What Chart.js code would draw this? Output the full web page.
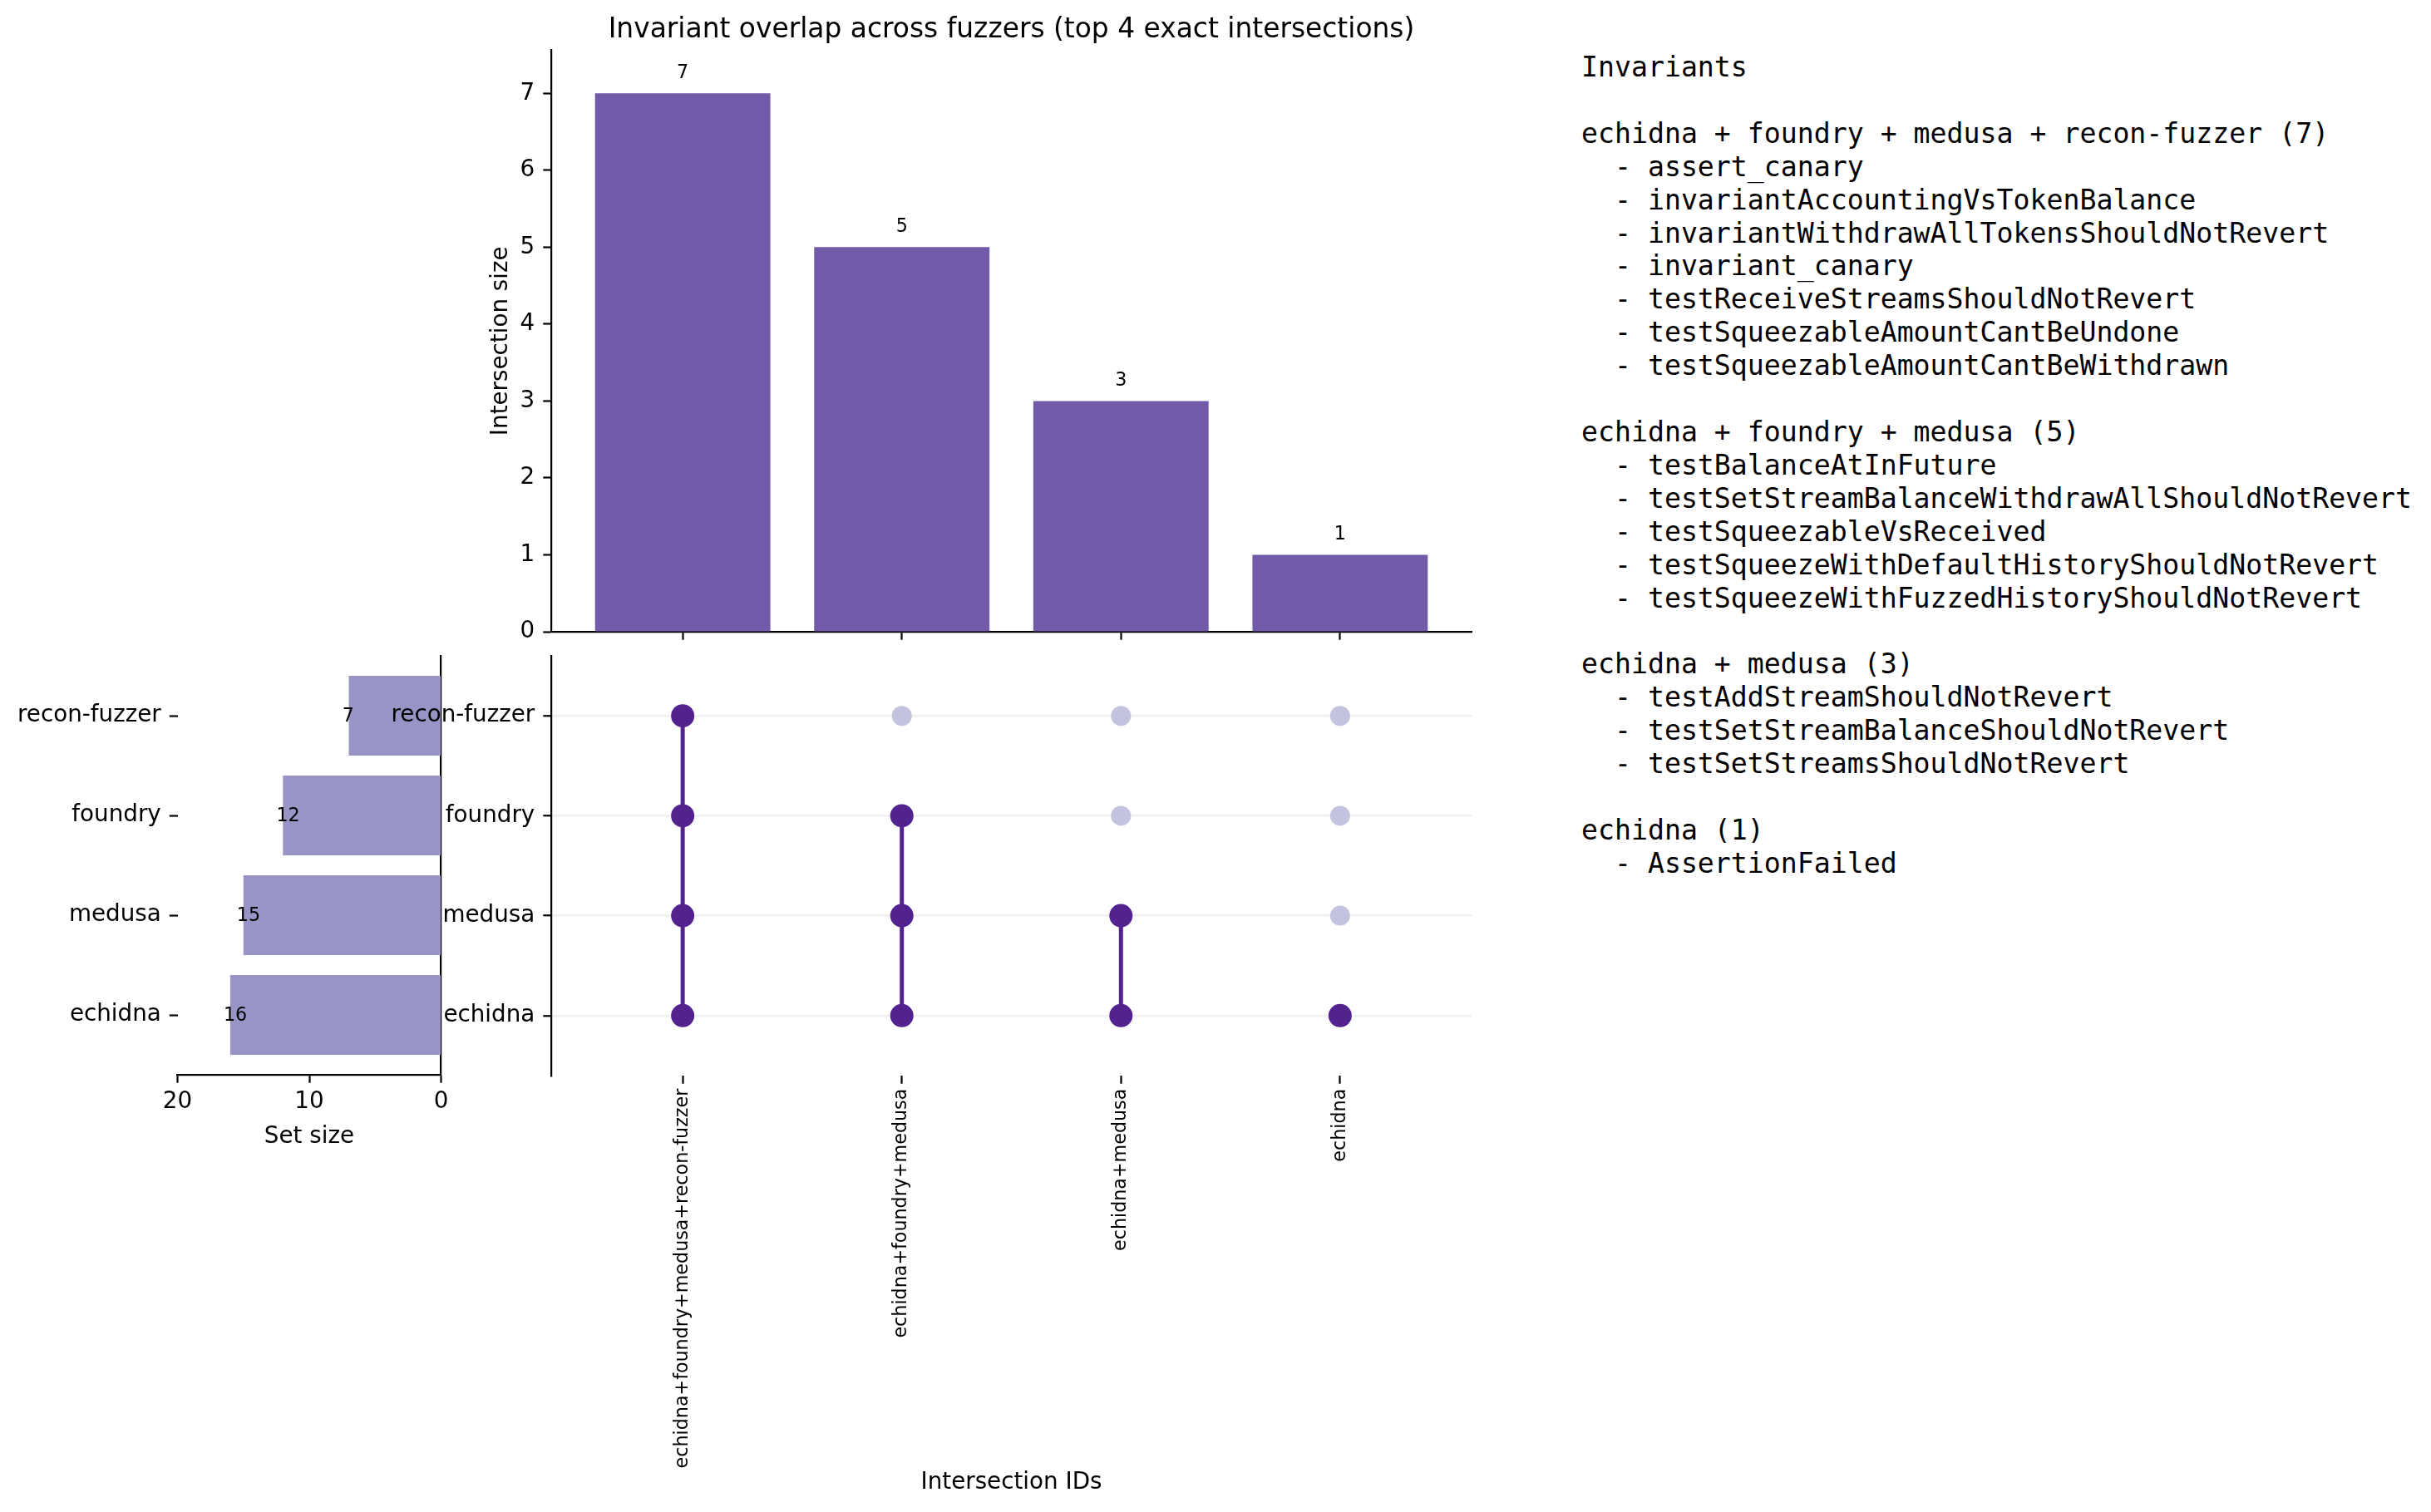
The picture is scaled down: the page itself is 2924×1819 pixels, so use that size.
<!DOCTYPE html>
<html>
<head>
<meta charset="utf-8">
<title>Invariant overlap across fuzzers</title>
<script src="https://cdn.jsdelivr.net/npm/chart.js@4.4.1/dist/chart.umd.min.js"></script>
<style>
  html, body { margin: 0; padding: 0; background: #ffffff; }
  body { width: 2924px; height: 1819px; position: relative; overflow: hidden; }
  canvas { position: absolute; }
  #intersectionChart { left: 560px; top: 0px; }
  #setSizeChart { left: 0px; top: 770px; }
  #matrixChart { left: 400px; top: 770px; }
  #invariantList {
    position: absolute; left: 1902px; top: 61px; margin: 0;
    font-family: 'DejaVu Sans Mono', monospace; font-size: 33.2px;
    line-height: 39.9px; color: #000;
  }
</style>
</head>
<body>
<canvas id="intersectionChart" width="1240" height="820"></canvas>
<canvas id="setSizeChart" width="560" height="623"></canvas>
<canvas id="matrixChart" width="1400" height="1049"></canvas>
<pre id="invariantList"></pre>
<script>
// Data block
const setNames = ['echidna', 'medusa', 'foundry', 'recon-fuzzer'];   // matrix rows, bottom to top
const setSizes = [16, 15, 12, 7];
const intersectionLabels = [
  'echidna+foundry+medusa+recon-fuzzer',
  'echidna+foundry+medusa',
  'echidna+medusa',
  'echidna'
];
const intersectionSizes = [7, 5, 3, 1];
// one row per intersection, one flag per set (echidna, medusa, foundry, recon-fuzzer)
const memberships = [
  [1, 1, 1, 1],
  [1, 1, 1, 0],
  [1, 1, 0, 0],
  [1, 0, 0, 0]
];
const sizeTicks = [0, 1, 2, 3, 4, 5, 6, 7];
const setSizeTicks = [0, 10, 20];
const positionTicks = [0, 1, 2, 3];

const invariantsAll4 = [
  'assert_canary',
  'invariantAccountingVsTokenBalance',
  'invariantWithdrawAllTokensShouldNotRevert',
  'invariant_canary',
  'testReceiveStreamsShouldNotRevert',
  'testSqueezableAmountCantBeUndone',
  'testSqueezableAmountCantBeWithdrawn'
];
const invariantsEchidnaFoundryMedusa = [
  'testBalanceAtInFuture',
  'testSetStreamBalanceWithdrawAllShouldNotRevert',
  'testSqueezableVsReceived',
  'testSqueezeWithDefaultHistoryShouldNotRevert',
  'testSqueezeWithFuzzedHistoryShouldNotRevert'
];
const invariantsEchidnaMedusa = [
  'testAddStreamShouldNotRevert',
  'testSetStreamBalanceShouldNotRevert',
  'testSetStreamsShouldNotRevert'
];
const invariantsEchidna = ['AssertionFailed'];
const invariantGroups = [invariantsAll4, invariantsEchidnaFoundryMedusa, invariantsEchidnaMedusa, invariantsEchidna];

// Style block (matplotlib points at 200 dpi)
const PT = 200 / 72;
const fs8 = 8 * PT, fs10 = 10 * PT;
const lineW = 0.8 * PT;
const tickLen = 3.5 * PT;
const topBarColor = '#715ba8';
const setBarColor = '#9894c5';
const darkDot = '#52228e';
const lightDot = '#c3c3e0';

Chart.defaults.font.family = "'DejaVu Sans', sans-serif";
Chart.defaults.color = '#000';

// helpers to pin axis sizes and tick positions
const fixWidth = w => s => { s.width = w; s.paddingTop = 0; s.paddingBottom = 0; };
const fixHeight = h => s => { s.height = h; };
const setTicks = values => s => { s.ticks = values.map(v => ({ value: v })); };
const blackTicks = { drawOnChartArea: false, tickLength: tickLen, tickWidth: lineW, tickColor: '#000', offset: false };
const blackBorder = { color: '#000', width: lineW };

// Value labels above intersection bars
const intersectionValueLabels = {
  id: 'intersectionValueLabels',
  afterDatasetsDraw(chart) {
    const ctx = chart.ctx;
    const meta = chart.getDatasetMeta(0);
    ctx.save();
    ctx.font = fs8 + "px 'DejaVu Sans'";
    ctx.fillStyle = '#000';
    ctx.textAlign = 'center';
    ctx.textBaseline = 'alphabetic';
    meta.data.forEach((bar, i) => {
      ctx.fillText(String(intersectionSizes[i]), bar.x, bar.y - 18.5);
    });
    ctx.restore();
  }
};

// Value labels inside set size bars
const setValueLabels = {
  id: 'setValueLabels',
  afterDatasetsDraw(chart) {
    const ctx = chart.ctx;
    const xs = chart.scales.x, ys = chart.scales.y;
    ctx.save();
    ctx.font = fs8 + "px 'DejaVu Sans'";
    ctx.fillStyle = '#000';
    ctx.textAlign = 'left';
    ctx.textBaseline = 'middle';
    setSizes.forEach((v, i) => {
      ctx.fillText(String(v), xs.getPixelForValue(v + 0.5), ys.getPixelForValue(i) + 1);
    });
    ctx.restore();
  }
};

// Intersection size bars
new Chart(document.getElementById('intersectionChart'), {
  type: 'bar',
  data: {
    datasets: [{
      data: intersectionSizes.map((v, i) => ({ x: i, y: v })),
      backgroundColor: topBarColor,
      barPercentage: 0.8,
      categoryPercentage: 1.0
    }]
  },
  options: {
    responsive: false,
    animation: false,
    layout: { padding: { right: 30 } },
    plugins: {
      legend: { display: false },
      tooltip: { enabled: false },
      title: {
        display: true,
        fullSize: false,
        text: 'Invariant overlap across fuzzers (top 4 exact intersections)',
        font: { size: 32.9, weight: 'normal' },
        color: '#000',
        padding: { top: 17, bottom: 4 }
      }
    },
    scales: {
      x: {
        type: 'linear', min: -0.6, max: 3.6, offset: false,
        afterBuildTicks: setTicks(positionTicks),
        afterFit: fixHeight(60),
        ticks: { display: false },
        grid: blackTicks,
        border: blackBorder
      },
      y: {
        min: 0, max: 7.56,
        afterBuildTicks: setTicks(sizeTicks),
        afterFit: fixWidth(103),
        ticks: { font: { size: fs10 }, color: '#000', padding: 10 },
        grid: blackTicks,
        border: blackBorder,
        title: {
          display: true, text: 'Intersection size',
          font: { size: fs10 }, color: '#000', padding: { top: 26 }
        }
      }
    }
  },
  plugins: [intersectionValueLabels]
});

// Set size bars (horizontal, reversed)
new Chart(document.getElementById('setSizeChart'), {
  type: 'bar',
  data: {
    datasets: [{
      data: setSizes.map((v, i) => ({ x: v, y: i })),
      backgroundColor: setBarColor,
      barPercentage: 0.8,
      categoryPercentage: 1.0
    }]
  },
  options: {
    indexAxis: 'y',
    responsive: false,
    animation: false,
    layout: { padding: { top: 19, right: 29.5 } },
    plugins: { legend: { display: false }, tooltip: { enabled: false } },
    scales: {
      x: {
        type: 'linear', reverse: true, min: 0, max: 20,
        afterBuildTicks: setTicks(setSizeTicks),
        afterFit: fixHeight(100),
        ticks: { font: { size: fs10 }, color: '#000', padding: 6 },
        grid: blackTicks,
        border: blackBorder,
        title: {
          display: true, text: 'Set size',
          font: { size: fs10 }, color: '#000', padding: { bottom: 9 }
        }
      },
      y: {
        type: 'linear', min: -0.6, max: 3.6, offset: false,
        afterBuildTicks: setTicks(positionTicks),
        afterFit: fixWidth(213.5),
        ticks: { callback: v => setNames[v], font: { size: fs10 }, color: '#000', padding: 10 },
        grid: blackTicks,
        border: { display: false }
      },
      yRight: {
        type: 'linear', position: 'right', min: -0.6, max: 3.6,
        afterFit: fixWidth(0),
        ticks: { display: false },
        grid: { drawOnChartArea: false, drawTicks: false },
        border: blackBorder
      }
    }
  },
  plugins: [setValueLabels]
});

// Membership matrix
const activePoints = [];
const inactivePoints = [];
const connectorSets = [];
memberships.forEach((row, c) => {
  const rows = [];
  row.forEach((flag, r) => {
    if (flag) { activePoints.push({ x: c, y: r }); rows.push(r); }
    else inactivePoints.push({ x: c, y: r });
  });
  if (rows.length > 1) {
    connectorSets.push({
      data: [{ x: c, y: Math.min(...rows) }, { x: c, y: Math.max(...rows) }],
      showLine: true,
      borderColor: darkDot,
      borderWidth: 5,
      pointRadius: 0,
      order: 1
    });
  }
});

new Chart(document.getElementById('matrixChart'), {
  type: 'scatter',
  data: {
    datasets: [
      { data: activePoints, pointRadius: 14, pointBackgroundColor: darkDot, pointBorderWidth: 0, order: 0 },
      ...connectorSets,
      { data: inactivePoints, pointRadius: 12, pointBackgroundColor: lightDot, pointBorderWidth: 0, order: 2 }
    ]
  },
  options: {
    responsive: false,
    animation: false,
    layout: { padding: { top: 19, right: 30 } },
    plugins: { legend: { display: false }, tooltip: { enabled: false } },
    scales: {
      x: {
        type: 'linear', min: -0.6, max: 3.6,
        afterBuildTicks: setTicks(positionTicks),
        afterFit: fixHeight(525),
        ticks: {
          callback: v => intersectionLabels[v], autoSkip: false,
          minRotation: 90, maxRotation: 90,
          font: { size: fs8 }, color: '#000', padding: 6
        },
        grid: blackTicks,
        border: { display: false },
        title: {
          display: true, text: 'Intersection IDs',
          font: { size: fs10 }, color: '#000', padding: { bottom: 19 }
        }
      },
      y: {
        type: 'linear', min: -0.6, max: 3.6,
        afterBuildTicks: setTicks(positionTicks),
        afterFit: fixWidth(263),
        ticks: { callback: v => setNames[v], font: { size: fs10 }, color: '#000', padding: 10 },
        grid: { color: '#f0f0f0', lineWidth: 2.5, tickLength: tickLen, tickWidth: lineW, tickColor: '#000' },
        border: blackBorder
      }
    }
  }
});

// Invariant listing on the right
const listLines = ['Invariants', ''];
intersectionLabels.forEach((label, i) => {
  listLines.push(label.split('+').join(' + ') + ' (' + intersectionSizes[i] + ')');
  invariantGroups[i].forEach(name => listLines.push('  - ' + name));
  if (i < intersectionLabels.length - 1) listLines.push('');
});
document.getElementById('invariantList').textContent = listLines.join('\n');
</script>
</body>
</html>
